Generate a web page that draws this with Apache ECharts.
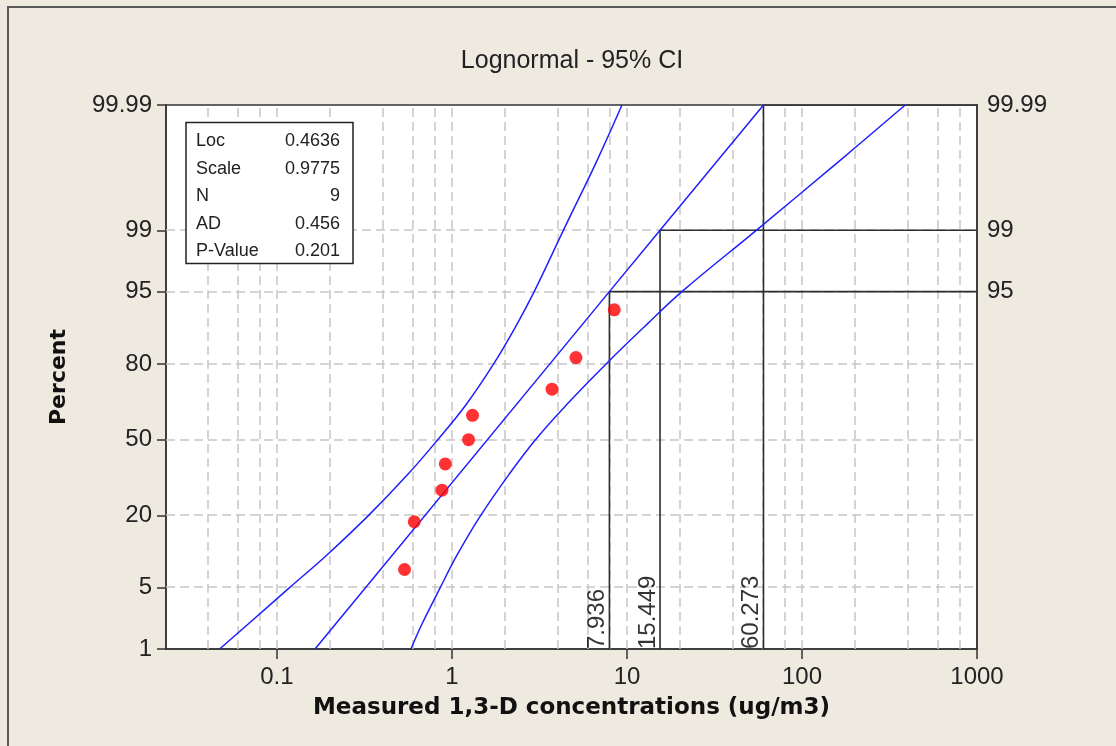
<!DOCTYPE html>
<html><head><meta charset="utf-8">
<script src="https://cdn.jsdelivr.net/npm/echarts@6/dist/echarts.min.js"></script>
<style>html,body{margin:0;padding:0;background:#eeeae0;} #c{width:1116px;height:746px;}</style>
</head><body><div id="c"></div>
<script>
// ---------- data ----------
const titleText = 'Lognormal - 95% CI';
const xAxisTitle = 'Measured 1,3-D concentrations (ug/m3)';
const yAxisTitle = 'Percent';
const xTickValues = [0.1, 1, 10, 100, 1000];
const xGridValues = [0.04,0.06,0.08,0.1,0.2,0.4,0.6,0.8,1,2,4,6,8,10,20,40,60,80,100,200,400,600,800];
const yTickPercents = [1,5,20,50,80,95,99,99.99];
const yTickLabels = ['1','5','20','50','80','95','99','99.99'];
const yGridPercents = [5,20,50,80,95,99];
const yRightTickPercents = [95,99,99.99];
const xMin = 0.02323, xMax = 1000;
const pMin = 1, pMax = 99.99;

const obsX = [0.536,0.609,0.877,0.916,1.244,1.311,3.73,5.11,8.46];
const obsPct = [7.45,18.09,28.72,39.36,50,60.64,71.28,81.91,92.55];

const fitX = [0.165, 7.936, 15.449, 60.273];
const fitPct = [1, 95, 99, 99.99];

const ciPct    = [1,2,5,10,20,35,50,65,80,90,95,99,99.9,99.99];
const ciLeftX  = [0.047,0.068,0.118,0.193,0.334,0.56,0.83,1.2,1.73,2.35,2.95,4.33,6.7,9.36];
const ciRightX = [0.583,0.672,0.857,1.07,1.46,2.12,3.0,4.5,7.6,13.0,20.6,54.8,162,389];

const pctlX = [7.936, 15.449, 60.273];
const pctlPct = [95, 99, 99.99];
const pctlLabels = ['7.936','15.449','60.273'];

const statNames = ['Loc','Scale','N','AD','P-Value'];
const statValues = ['0.4636','0.9775','9','0.456','0.201'];

// ---------- probability-axis transform (normal quantile) ----------
function probit(p) {
  const a=[-3.969683028665376e+01,2.209460984245205e+02,-2.759285104469687e+02,1.383577518672690e+02,-3.066479806614716e+01,2.506628277459239e+00];
  const b=[-5.447609879822406e+01,1.615858368580409e+02,-1.556989798598866e+02,6.680131188771972e+01,-1.328068155288572e+01];
  const c=[-7.784894002430293e-03,-3.223964580411365e-01,-2.400758277161838e+00,-2.549732539343734e+00,4.374664141464968e+00,2.938163982698783e+00];
  const d=[7.784695709041462e-03,3.224671290700398e-01,2.445134137142996e+00,3.754408661907416e+00];
  const pl=0.02425, ph=1-pl; let q,r;
  if(p<pl){q=Math.sqrt(-2*Math.log(p));return (((((c[0]*q+c[1])*q+c[2])*q+c[3])*q+c[4])*q+c[5])/((((d[0]*q+d[1])*q+d[2])*q+d[3])*q+1);}
  if(p<=ph){q=p-0.5;r=q*q;return (((((a[0]*r+a[1])*r+a[2])*r+a[3])*r+a[4])*r+a[5])*q/(((((b[0]*r+b[1])*r+b[2])*r+b[3])*r+b[4])*r+1);}
  q=Math.sqrt(-2*Math.log(1-p));return -(((((c[0]*q+c[1])*q+c[2])*q+c[3])*q+c[4])*q+c[5])/((((d[0]*q+d[1])*q+d[2])*q+d[3])*q+1);
}
const Z = pct => probit(pct/100);
const zMin = Z(pMin), zMax = Z(pMax);
const zTicks = yTickPercents.map(Z);
function pctLabel(z){let bi=0,bd=1e9;zTicks.forEach((t,i)=>{const dd=Math.abs(t-z);if(dd<bd){bd=dd;bi=i;}});return yTickLabels[bi];}
const pairs = (xs, ps) => xs.map((x,i)=>[x, Z(ps[i])]);

// ---------- styles ----------
const AX = '#333333';
const numFont = {fontFamily:'Liberation Sans', fontSize:24, color:'#222'};
const blue = '#1f1fff';

const chart = echarts.init(document.getElementById('c'), null, {renderer:'canvas'});

const refSeries = pctlX.map((x,i)=>({
  type:'line', xAxisIndex:0, yAxisIndex:0, silent:true, animation:false, symbol:'none', z:3,
  lineStyle:{color:'#2e2e2e', width:1.6},
  data: pairs([x, x, xMax], [pMin, pctlPct[i], pctlPct[i]])
}));

const statGraphics = [{
  type:'rect', x:186, y:122.5, shape:{x:0,y:0,width:167,height:141},
  style:{fill:'#fff', stroke:'#222', lineWidth:1.5}, z:100
}];
statNames.forEach((n,i)=>{
  const y = 141.5 + i*27.4;
  statGraphics.push({type:'text', x:196, y:y, z:101, style:{text:n, fontFamily:'Liberation Sans', fontSize:18, fill:'#222', textAlign:'left', textVerticalAlign:'middle'}});
  statGraphics.push({type:'text', x:340, y:y, z:101, style:{text:statValues[i], fontFamily:'Liberation Sans', fontSize:18, fill:'#222', textAlign:'right', textVerticalAlign:'middle'}});
});

const option = {
  backgroundColor:'#eeeae0',
  animation:false,
  title:{text:titleText, left:567, top:44, textAlign:'center',
    textStyle:{fontFamily:'Liberation Sans', fontSize:25, fontWeight:'normal', color:'#222'}},
  grid:{left:166, right:139, top:105, bottom:97, containLabel:false, outerBoundsMode:'none',
    show:true, backgroundColor:'#ffffff', borderColor:AX, borderWidth:1.5},
  xAxis:[{
    type:'log', logBase:10, min:xMin, max:xMax, position:'bottom',
    name:xAxisTitle, nameLocation:'middle', nameGap:48,
    nameTextStyle:{fontFamily:'DejaVu Sans', fontWeight:'bold', fontSize:23, color:'#111'},
    axisLine:{show:true, onZero:false, lineStyle:{color:AX, width:1.5}},
    axisTick:{show:true, customValues:xTickValues, length:10, lineStyle:{color:AX, width:1.5}},
    axisLabel:Object.assign({customValues:xTickValues, margin:16,
      formatter:v=>String(Number(Number(v).toPrecision(6)))}, numFont),
    splitLine:{show:false}, minorSplitLine:{show:false}
  }],
  yAxis:[{
    type:'value', min:zMin, max:zMax, position:'left',
    name:yAxisTitle, nameLocation:'middle', nameGap:96, nameRotate:90,
    nameTextStyle:{fontFamily:'DejaVu Sans', fontWeight:'bold', fontSize:22, color:'#111'},
    axisLine:{show:true, onZero:false, lineStyle:{color:AX, width:1.5}},
    axisTick:{show:true, customValues:zTicks, length:9, lineStyle:{color:AX, width:1.5}},
    axisLabel:Object.assign({customValues:zTicks, margin:14, formatter:pctLabel}, numFont),
    splitLine:{show:false}
  },{
    type:'value', min:zMin, max:zMax, position:'right',
    axisLine:{show:true, onZero:false, lineStyle:{color:AX, width:1.5}},
    axisTick:{show:false},
    axisLabel:Object.assign({customValues:yRightTickPercents.map(Z), margin:10, formatter:pctLabel}, numFont),
    splitLine:{show:false}
  }],
  graphic:[{type:'rect', x:8, y:7, shape:{x:0,y:0,width:1200,height:800},
    style:{fill:'none', stroke:'#5a5a5a', lineWidth:2}, z:0, silent:true}].concat(statGraphics),
  series:[
    {type:'line', xAxisIndex:0, yAxisIndex:0, data:[], silent:true, z:1,
     markLine:{silent:true, z:1, symbol:['none','none'], label:{show:false}, animation:false,
       lineStyle:{color:'#c6c6c6', type:[9,5], width:1.5},
       emphasis:{disabled:true},
       data: xGridValues.map(v=>({xAxis:v})).concat(yGridPercents.map(p=>({yAxis:Z(p)})))}},
    ...refSeries,
    {type:'line', name:'ciLeft', smooth:0.4, symbol:'none', z:4, silent:true,
     lineStyle:{color:blue, width:1.5}, data:pairs(ciLeftX, ciPct)},
    {type:'line', name:'ciRight', smooth:0.4, symbol:'none', z:4, silent:true,
     lineStyle:{color:blue, width:1.5}, data:pairs(ciRightX, ciPct)},
    {type:'line', name:'fit', symbol:'none', z:4, silent:true,
     lineStyle:{color:blue, width:1.5}, data:pairs(fitX, fitPct)},
    {type:'scatter', name:'obs', symbol:'circle', symbolSize:13, z:5, silent:true,
     itemStyle:{color:'#ff0000'}, data:pairs(obsX, obsPct)},
    {type:'scatter', name:'pctlLabels', symbolSize:0, z:6, silent:true, clip:false,
     itemStyle:{color:'#000'},
     data:pctlX.map(x=>[x, zMin]),
     label:{show:true, position:'inside', rotate:90, align:'left', verticalAlign:'bottom',
       textBorderWidth:0, textBorderColor:'transparent',
       formatter:p=>pctlLabels[p.dataIndex], fontFamily:'Liberation Sans', fontSize:24, color:'#000'}}
  ]
};
chart.setOption(option);
</script></body></html>
